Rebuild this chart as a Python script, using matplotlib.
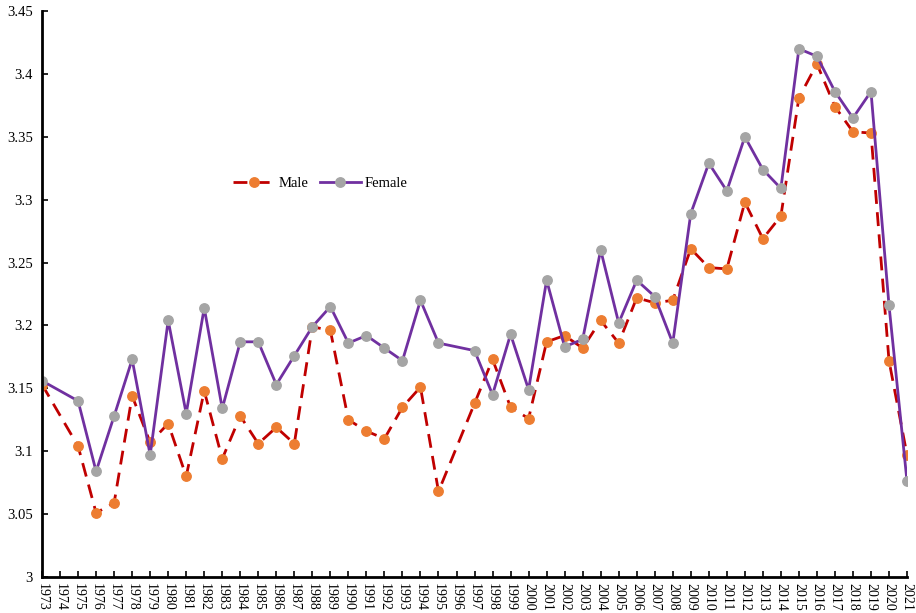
import numpy as np
import matplotlib
matplotlib.use("Agg")
import matplotlib.pyplot as plt

plt.rcParams["font.family"] = ["Liberation Serif", "DejaVu Serif"]

# ---- data (1974 and 1996 missing) ----
years = [1973, 1975, 1976, 1977, 1978, 1979, 1980, 1981, 1982, 1983, 1984,
         1985, 1986, 1987, 1988, 1989, 1990, 1991, 1992, 1993, 1994, 1995,
         1997, 1998, 1999, 2000, 2001, 2002, 2003, 2004, 2005, 2006, 2007,
         2008, 2009, 2010, 2011, 2012, 2013, 2014, 2015, 2016, 2017, 2018,
         2019, 2020, 2021]

male = [3.153, 3.104, 3.051, 3.059, 3.144, 3.107, 3.122, 3.080, 3.148, 3.094,
        3.128, 3.106, 3.119, 3.106, 3.199, 3.196, 3.125, 3.116, 3.110, 3.135,
        3.151, 3.068, 3.138, 3.173, 3.135, 3.126, 3.187, 3.192, 3.182, 3.204,
        3.186, 3.222, 3.218, 3.220, 3.261, 3.246, 3.245, 3.298, 3.269, 3.287,
        3.381, 3.408, 3.374, 3.354, 3.353, 3.172, 3.097]

female = [3.156, 3.140, 3.084, 3.128, 3.173, 3.097, 3.204, 3.130, 3.214, 3.134,
          3.187, 3.187, 3.153, 3.176, 3.199, 3.215, 3.186, 3.192, 3.182, 3.172,
          3.220, 3.186, 3.180, 3.145, 3.193, 3.149, 3.236, 3.183, 3.189, 3.260,
          3.202, 3.236, 3.223, 3.186, 3.289, 3.329, 3.307, 3.350, 3.324, 3.309,
          3.420, 3.414, 3.386, 3.365, 3.386, 3.216, 3.076]

tick_years = list(range(1973, 2022))
ytick_labels = ["3", "3.05", "3.1", "3.15", "3.2", "3.25", "3.3",
                "3.35", "3.4", "3.45"]

fig = plt.figure(figsize=(9.16, 6.13), dpi=100)
ax = fig.add_axes([0.0459, 0.0587, 0.9443, 0.9233])

ax.plot(years, male, linestyle=(0, (5, 3)), color="#C00000", lw=2,
        marker="o", ms=6.8, mfc="#ED7D31", mec="#ED7D31", label="Male")
ax.plot(years, female, "-", color="#7030A0", lw=2,
        marker="o", ms=6.8, mfc="#A5A5A5", mec="#A5A5A5", label="Female")

ax.set_xlim(1973, 2021)
ax.set_ylim(3, 3.45)
ax.set_xticks(tick_years)
ax.set_xticklabels([str(y) for y in tick_years], rotation=-90, fontsize=10)
ax.set_yticks(np.arange(0, 10) * 0.05 + 3)
ax.set_yticklabels(ytick_labels, fontsize=10.5)
ax.tick_params(direction="in", length=4, width=1.2)
ax.tick_params(axis="y", pad=6.5)
ax.tick_params(axis="x", pad=4)

for side in ("top", "right"):
    ax.spines[side].set_visible(False)
for side in ("left", "bottom"):
    ax.spines[side].set_linewidth(2)

ax.legend(loc="center", bbox_to_anchor=(0.322, 0.695), ncol=2, frameon=False,
          fontsize=10.5, handlelength=2.8, columnspacing=0.8,
          handletextpad=0.3)

fig.savefig("out.png", dpi=100)
